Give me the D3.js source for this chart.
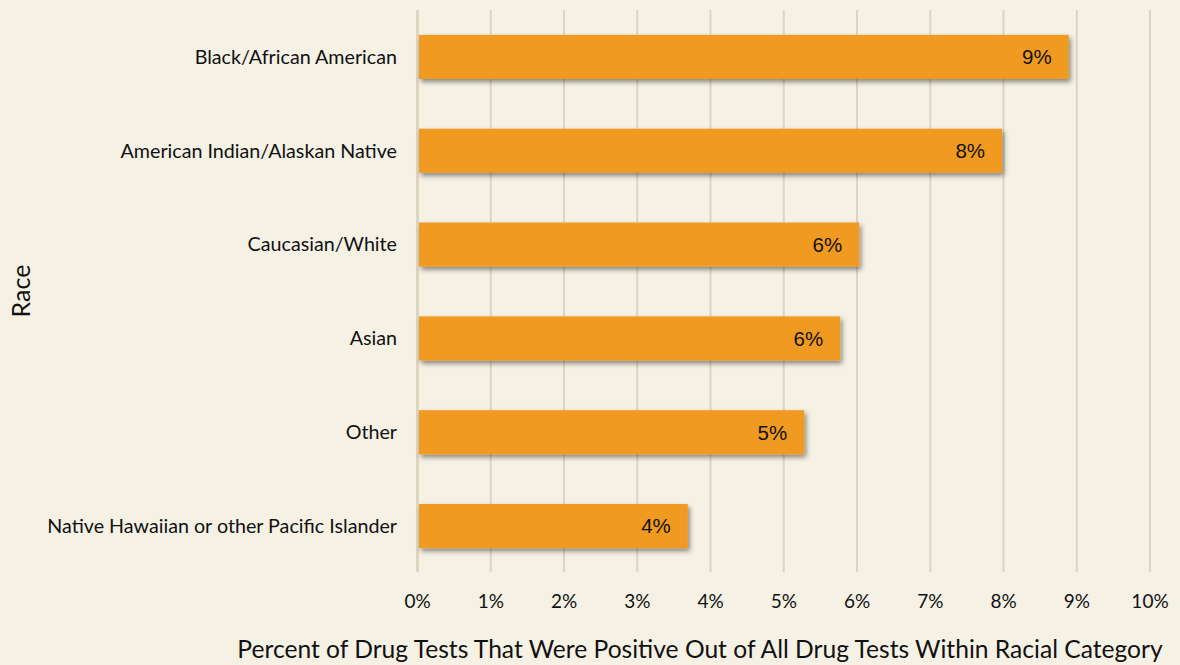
<!DOCTYPE html>
<html><head><meta charset="utf-8">
<script src="https://cdn.jsdelivr.net/npm/d3@7"></script>
<style>
html,body{margin:0;padding:0;background:#F5F1E4;}
svg{display:block;}
</style></head>
<body><svg id="chart" width="1180" height="665"></svg>
<script>
const categories = ["Black/African American","American Indian/Alaskan Native","Caucasian/White","Asian","Other","Native Hawaiian or other Pacific Islander"];
const values = [8.89, 7.98, 6.03, 5.77, 5.28, 3.69];
const labels = ["9%","8%","6%","6%","5%","4%"];
const xTicks = [0,1,2,3,4,5,6,7,8,9,10];
const xTitle = "Percent of Drug Tests That Were Positive Out of All Drug Tests Within Racial Category";
const yTitle = "Race";

const svg = d3.select("#chart");
svg.append("rect").attr("width",1180).attr("height",665).attr("fill","#F5F1E4");

const x = d3.scaleLinear().domain([0,10]).range([417.5,1150]);
const y = d3.scaleBand().domain(categories).range([10,573]).paddingInner(0.53).paddingOuter(0.265);

const defs = svg.append("defs");
const f = defs.append("filter").attr("id","sh").attr("x","-5%").attr("y","-30%").attr("width","115%").attr("height","180%");
f.append("feDropShadow").attr("dx",2).attr("dy",3).attr("stdDeviation",2.5).attr("flood-color","#000").attr("flood-opacity",0.45);

// gridlines
svg.append("g").selectAll("line").data(xTicks).join("line")
  .attr("x1",d=>x(d)).attr("x2",d=>x(d)).attr("y1",10).attr("y2",572)
  .attr("stroke","#DDD5BF").attr("stroke-width",d=>d===0?3:2);

// bars
svg.append("g").selectAll("rect").data(categories).join("rect")
  .attr("x",x(0)+1.5).attr("y",d=>y(d)).attr("height",y.bandwidth())
  .attr("width",(d,i)=>x(values[i])-x(0)-1.5)
  .attr("fill","#F09A22").attr("filter","url(#sh)");

// data labels
svg.append("g").selectAll("text").data(categories).join("text")
  .attr("x",(d,i)=>x(values[i])-17).attr("y",d=>y(d)+y.bandwidth()/2)
  .attr("dy","0.36em").attr("text-anchor","end")
  .attr("font-family","Liberation Sans, Arial, sans-serif").attr("font-size",20.5).attr("fill","#111")
  .text((d,i)=>labels[i]);

// y axis category labels
svg.append("g").selectAll("text").data(categories).join("text")
  .attr("x",397).attr("y",d=>y(d)+y.bandwidth()/2).attr("dy","0.35em").attr("text-anchor","end")
  .attr("font-family","Lato, Carlito, sans-serif").attr("font-size",19.7).attr("fill","#111")
  .text(d=>d);

// x tick labels
svg.append("g").selectAll("text").data(xTicks).join("text")
  .attr("x",d=>x(d)).attr("y",601).attr("dy","0.35em").attr("text-anchor","middle")
  .attr("font-family","Lato, Carlito, sans-serif").attr("font-size",19).attr("fill","#111")
  .text(d=>d+"%");

svg.append("text").attr("x",700).attr("y",649).attr("dy","0.35em").attr("text-anchor","middle")
  .attr("font-family","Lato, Carlito, sans-serif").attr("font-size",24.6).attr("fill","#111").text(xTitle);

svg.append("text").attr("transform","translate(21,291) rotate(-90)").attr("dy","0.35em").attr("text-anchor","middle")
  .attr("font-family","Lato, Carlito, sans-serif").attr("font-size",25).attr("fill","#111").text(yTitle);
</script></body></html>
